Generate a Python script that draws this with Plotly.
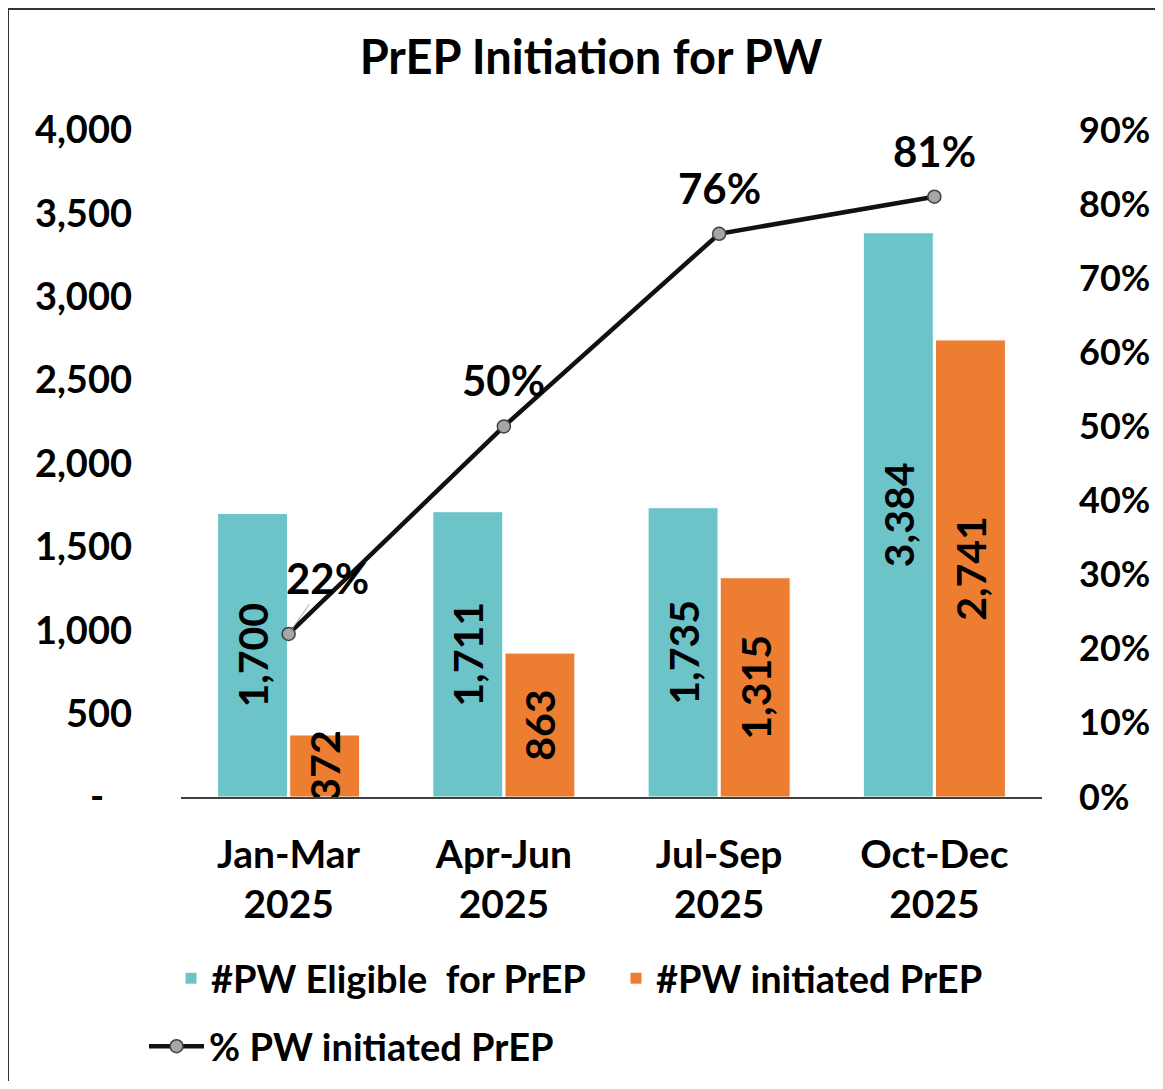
import plotly.graph_objects as go

categories = ["Jan-Mar<br>2025", "Apr-Jun<br>2025", "Jul-Sep<br>2025", "Oct-Dec<br>2025"]
eligible = [1700, 1711, 1735, 3384]
initiated = [372, 863, 1315, 2741]
pct_initiated = [0.22, 0.50, 0.76, 0.81]

y_tickvals = [0, 500, 1000, 1500, 2000, 2500, 3000, 3500, 4000]
y_ticktext = ["-\u00a0\u00a0\u00a0", "500", "1,000", "1,500", "2,000", "2,500", "3,000", "3,500", "4,000"]
y2_tickvals = [0, 0.1, 0.2, 0.3, 0.4, 0.5, 0.6, 0.7, 0.8, 0.9]

name_eligible = "#PW Eligible\u00a0 for PrEP"
name_initiated = "#PW initiated PrEP"
name_pct = "% PW initiated PrEP"

FONT = "Lato"
TEAL = "#6CC4C8"
ORANGE = "#ED7D31"

W, H = 1147, 1073
L, R, T, B = 173, 113, 122, 284
PW, PH = W - L - R, H - T - B

def bold(size):
    return dict(family=FONT, size=size, color="black", weight="bold")

fig = go.Figure()
fig.add_trace(go.Bar(
    x=categories, y=eligible, name=name_eligible,
    marker=dict(color=TEAL, line=dict(color="white", width=1)),
    text=[f"{v:,}" for v in eligible], textposition="inside", textangle=-90,
    insidetextanchor="middle", constraintext="none",
    insidetextfont=bold(41),
    legend="legend",
))
fig.add_trace(go.Bar(
    x=categories, y=initiated, name=name_initiated,
    marker=dict(color=ORANGE, line=dict(color="white", width=1)),
    text=[f"{v:,}" for v in initiated], textposition="inside", textangle=-90,
    insidetextanchor="middle", constraintext="none",
    insidetextfont=bold(41),
    legend="legend2",
))
fig.add_trace(go.Scatter(
    x=categories, y=pct_initiated, name=name_pct, yaxis="y2",
    mode="lines+markers",
    line=dict(color="#111111", width=4.5),
    marker=dict(size=13, color="#A6A6A6", line=dict(color="#404040", width=1.5)),
    legend="legend3",
))

# line data labels
for i, (c, p) in enumerate(zip(categories, pct_initiated)):
    if i == 0:
        fig.add_annotation(x=c, y=p, yref="y2", text=f"{p:.0%}", showarrow=True,
                           ax=39, ay=-56, arrowhead=0, arrowwidth=1, arrowcolor="#A6A6A6",
                           standoff=6, font=bold(42))
    else:
        fig.add_annotation(x=c, y=p, yref="y2", text=f"{p:.0%}", showarrow=False,
                           yshift=46, font=bold(42))

# outer chart border (left and top visible)
fig.add_shape(type="rect", xref="paper", yref="paper",
              x0=(0 - L) / PW, x1=1.5, y0=-0.6, y1=(PH + T - 1) / PH,
              line=dict(color="#333333", width=2), layer="below")

leg_common = dict(orientation="h", xref="container", yref="container",
                  xanchor="left", yanchor="top", font=bold(38),
                  bgcolor="rgba(0,0,0,0)")

fig.update_layout(
    width=W, height=H,
    margin=dict(l=L, r=R, t=T, b=B, autoexpand=False),
    paper_bgcolor="white", plot_bgcolor="white",
    font=bold(38),
    title=dict(text="PrEP Initiation for PW", x=583 / W, xanchor="center",
               y=1 - 50 / H, yanchor="middle", yref="container",
               font=bold(47)),
    barmode="group", bargap=0.33, bargroupgap=0.03,
    xaxis=dict(showline=True, linecolor="#404040", linewidth=1.5, showgrid=False,
               ticks="", tickfont=bold(39), ticklabelstandoff=22, automargin=False),
    yaxis=dict(range=[0, 4000], tickvals=y_tickvals, ticktext=y_ticktext,
               showgrid=False, zeroline=False, showline=False, ticks="",
               ticklabelstandoff=48, tickfont=bold(38), automargin=False),
    yaxis2=dict(range=[0, 0.9], tickvals=y2_tickvals, tickformat=".0%",
                overlaying="y", side="right", showgrid=False, zeroline=False,
                showline=False, ticks="", ticklabelstandoff=36,
                tickfont=bold(36), automargin=False),
    legend=dict(x=163 / W, y=1 - 939 / H, **leg_common),
    legend2=dict(x=608 / W, y=1 - 939 / H, **leg_common),
    legend3=dict(x=136 / W, y=1 - 1007 / H, itemwidth=55, **leg_common),
    showlegend=True,
)

fig.write_html("out.html")
